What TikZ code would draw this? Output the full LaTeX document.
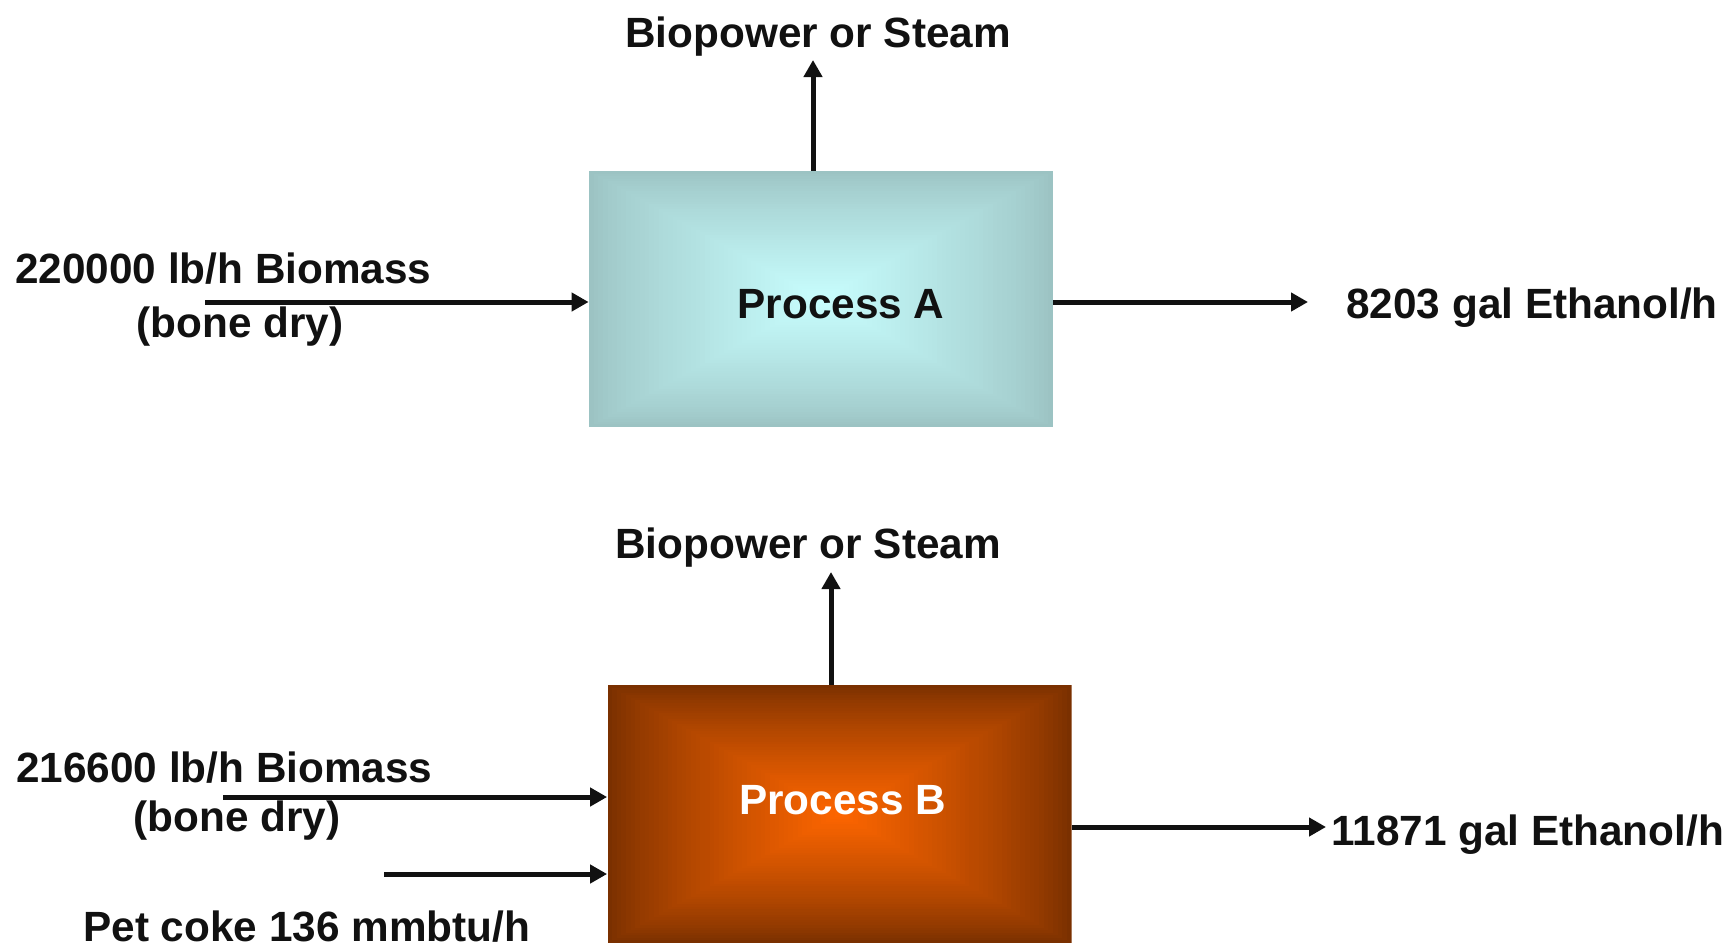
\documentclass[tikz,border=0pt]{standalone}
\usepackage{fontspec}
\setmainfont{Liberation Sans}
\usetikzlibrary{arrows.meta,calc}
\definecolor{edgeA}{HTML}{9CC3C3}
\definecolor{midA}{HTML}{C8FEFE}
\definecolor{edgeB}{HTML}{7A3000}
\definecolor{midB}{HTML}{FF6600}
\definecolor{ink}{HTML}{111111}
\tikzset{
  lbl/.style={font=\fontsize{21.15pt}{25pt}\selectfont\bfseries, text=ink, inner sep=0pt, anchor=base west},
  flow/.style={draw=ink, line width=2.5pt, -{Triangle[length=8.5pt,width=9pt]}},
  procbox/.style n args={2}{draw=none, inner sep=0pt, minimum width=232pt, minimum height=128pt,
    font=\fontsize{21.15pt}{25pt}\selectfont\bfseries,
    path picture={
      \foreach \i in {0,...,50}{
        \pgfmathsetmacro\f{1-\i/50}
        \pgfmathtruncatemacro\p{100*(\i/50)^0.8}
        \fill[#2!\p!#1]
          ($(path picture bounding box.center)!\f!(path picture bounding box.south west)$)
          rectangle
          ($(path picture bounding box.center)!\f!(path picture bounding box.north east)$);
      }
    }}
}
\begin{document}
\begin{tikzpicture}[x=0.5pt,y=-0.5pt]
\fill[white] (0,0) rectangle (1728,943);
\useasboundingbox (0,0) rectangle (1728,943);

% process boxes
\node[procbox={edgeA}{midA}, text=ink] (A) at (821,299) {\smash{\raisebox{-9.5pt}{\hspace*{20pt}Process A}}};
\node[procbox={edgeB}{midB}, text=white, minimum height=129pt] (B) at (839.5,814) {\smash{\hspace*{3pt}Process B}};

% labels, upper process
\node[lbl] (steamA) at (625,47) {Biopower or Steam};
\node[lbl] (bioA1) at (15,283) {220000 lb/h Biomass};
\node[lbl] (bioA2) at (136,337) {(bone dry)};
\node[lbl] (ethA) at (1346,318) {8203 gal Ethanol/h};

% labels, lower process
\node[lbl] (steamB) at (615,558) {Biopower or Steam};
\node[lbl] (bioB1) at (16,782) {216600 lb/h Biomass};
\node[lbl] (bioB2) at (133,831) {(bone dry)};
\node[lbl] (coke) at (83,941) {Pet coke 136 mmbtu/h};
\node[lbl] (ethB) at (1331,845) {11871 gal Ethanol/h};

% connector end points
\coordinate (upA) at (813,60);
\coordinate (inA) at (205,302);
\coordinate (outA) at (1308,302);
\coordinate (upB) at (831,572);
\coordinate (inB1) at (223,797);
\coordinate (inB2) at (384,874);
\coordinate (outB) at (1326,827);

% connectors
\draw[flow] (A.north -| upA) -- (upA);
\draw[flow] (inA) -- (inA -| A.west);
\draw[flow] (outA -| A.east) -- (outA);
\draw[flow] (B.north -| upB) -- (upB);
\draw[flow] (inB1) -- (inB1 -| B.west);
\draw[flow] (inB2) -- (inB2 -| B.west);
\draw[flow] (outB -| B.east) -- (outB);
\end{tikzpicture}
\end{document}
